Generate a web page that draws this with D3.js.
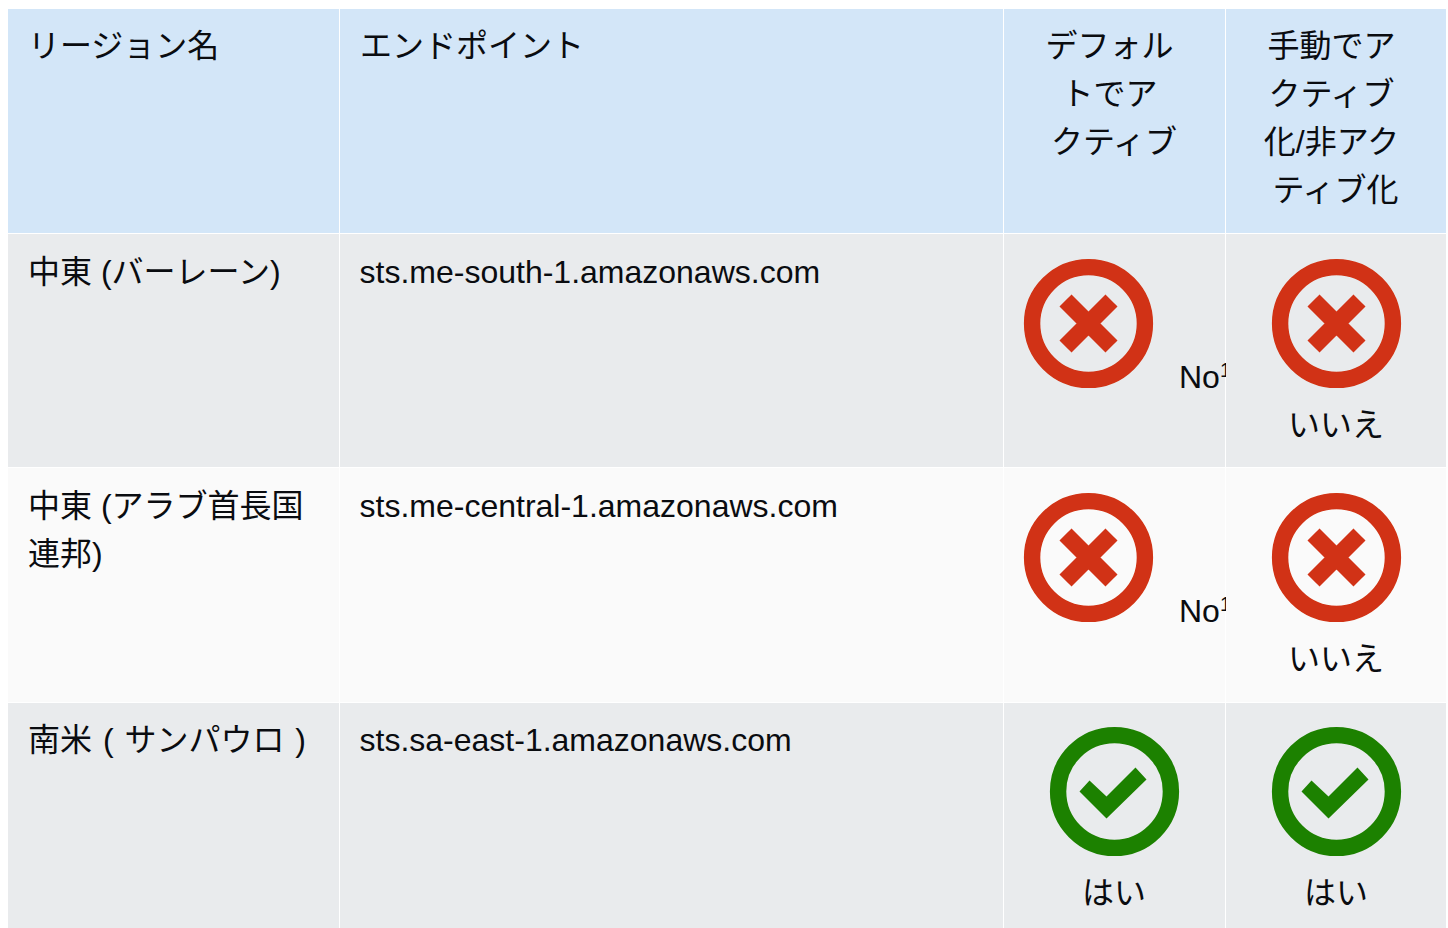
<!DOCTYPE html>
<html>
<head>
<meta charset="utf-8">
<script src="https://cdn.jsdelivr.net/npm/d3@7"></script>
<style>
  html, body { margin: 0; padding: 0; background: #fff; overflow: hidden; }
  text { font-family: "Liberation Sans", "Noto Sans CJK JP", sans-serif; font-size: 32px; fill: #0a0c10; }
</style>
</head>
<body>
<div id="chart"></div>
<script>
const columns = ["region", "endpoint", "defaultActive", "manualToggle"];
const headerLines = [
  ["リージョン名"],
  ["エンドポイント"],
  ["デフォル", "トでア", "クティブ"],
  ["手動でア", "クティブ", "化/非アク", "ティブ化"],
];
const rowKeys = ["bahrain", "uae", "saopaulo"];
const regionLines = [
  ["中東 (バーレーン)"],
  ["中東 (アラブ首長国", "連邦)"],
  ["南米 ( サンパウロ )"],
];
const endpoints = [
  "sts.me-south-1.amazonaws.com",
  "sts.me-central-1.amazonaws.com",
  "sts.sa-east-1.amazonaws.com",
];
const defaultActive = [false, false, true];
const manualToggle = [false, false, true];
const defaultLabels = ["No", "No", "はい"];
const manualLabels = ["いいえ", "いいえ", "はい"];

const width = 1448;
const height = 928;
const red = "#d13212";
const green = "#1d8102";

const colLeft = d3.scaleOrdinal().domain(columns).range([8, 340, 1004, 1226]);
const colRight = d3.scaleOrdinal().domain(columns).range([339, 1003, 1225, 1446]);
const rowTop = d3.scaleOrdinal().domain(rowKeys).range([234, 468, 703]);
const rowBottom = d3.scaleOrdinal().domain(rowKeys).range([467, 702, 928]);
const rowFill = d3.scaleOrdinal().domain(rowKeys).range(["#e9ebed", "#fafafa", "#e9ebed"]);
// rows repeat every 234px, only the painted edges are uneven
const rowY = d3.scaleLinear().domain([0, 1]).range([0, 234]);

const svg = d3.select("#chart").append("svg")
  .attr("width", width)
  .attr("height", height)
  .style("display", "block");

const defs = svg.append("defs");
defs.append("clipPath").attr("id", "col3clip")
  .append("rect")
  .attr("x", colLeft("defaultActive"))
  .attr("y", 0)
  .attr("width", colRight("defaultActive") - colLeft("defaultActive") + 1)
  .attr("height", height);
defs.append("filter").attr("id", "soft")
  .append("feGaussianBlur").attr("stdDeviation", 0.5);

// header cells
svg.append("g").selectAll("rect").data(columns).join("rect")
  .attr("x", (d) => colLeft(d))
  .attr("y", 9)
  .attr("width", (d) => colRight(d) - colLeft(d))
  .attr("height", 224)
  .attr("fill", "#d3e6f8");

// body cells
rowKeys.forEach((row) => {
  svg.append("g").selectAll("rect").data(columns).join("rect")
    .attr("x", (d) => colLeft(d))
    .attr("y", rowTop(row))
    .attr("width", (d) => colRight(d) - colLeft(d))
    .attr("height", rowBottom(row) - rowTop(row))
    .attr("fill", rowFill(row));
});

// header text
const headerX = [
  { x: 28, anchor: "start" },
  { x: 360, anchor: "start" },
  { x: 1109.5, anchor: "middle" },
  { x: 1331.5, anchor: "middle" },
];
const headerNudge = [[0], [0], [0, 0, 4.5], [0, 0, 0, 4]];
const lineHeight = 48;

headerLines.forEach((lines, i) => {
  svg.append("g").selectAll("text").data(lines).join("text")
    .attr("x", (d, j) => headerX[i].x + headerNudge[i][j])
    .attr("y", (d, j) => 57 + j * lineHeight)
    .attr("text-anchor", headerX[i].anchor)
    .text((d) => d);
});

// body text
rowKeys.forEach((row, i) => {
  const base = 283 + rowY(i);
  svg.append("g").selectAll("text").data(regionLines[i]).join("text")
    .attr("x", 28)
    .attr("y", (d, j) => base + j * lineHeight)
    .style("word-spacing", row === "saopaulo" ? "2px" : null)
    .text((d) => d);
  svg.append("text").attr("x", 359.5).attr("y", base).text(endpoints[i]);
});

function drawIcon(cx, cy, ok) {
  const color = ok ? green : red;
  const g = svg.append("g")
    .attr("transform", `translate(${cx},${cy})`)
    .attr("filter", "url(#soft)");
  g.append("circle").attr("r", 56.4).attr("fill", "none")
    .attr("stroke", color).attr("stroke-width", 16.4);
  if (ok) {
    g.append("polygon")
      .attr("points", "-35,0 -25,-11 -8,5 21,-24 32,-12 -8,27")
      .attr("fill", color);
  } else {
    g.append("path")
      .attr("d", "M-23,-23L23,23M-23,23L23,-23")
      .attr("stroke", color).attr("stroke-width", 17).attr("fill", "none");
  }
}

rowKeys.forEach((row, i) => {
  const cy = 323.5 + rowY(i);
  drawIcon(defaultActive[i] ? 1114.5 : 1088.5, cy, defaultActive[i]);
  drawIcon(1336.5, cy, manualToggle[i]);

  if (defaultActive[i]) {
    svg.append("text")
      .attr("x", 1114).attr("y", cy + 112)
      .attr("text-anchor", "middle")
      .text(defaultLabels[i]);
  } else {
    const label = svg.append("text")
      .attr("clip-path", "url(#col3clip)")
      .attr("x", 1179).attr("y", cy + 64)
      .text(defaultLabels[i]);
    label.append("tspan")
      .attr("dy", -11).style("font-size", "20px")
      .text("1");
  }
  svg.append("text")
    .attr("x", 1336).attr("y", cy + 112)
    .attr("text-anchor", "middle")
    .text(manualLabels[i]);
});
</script>
</body>
</html>
